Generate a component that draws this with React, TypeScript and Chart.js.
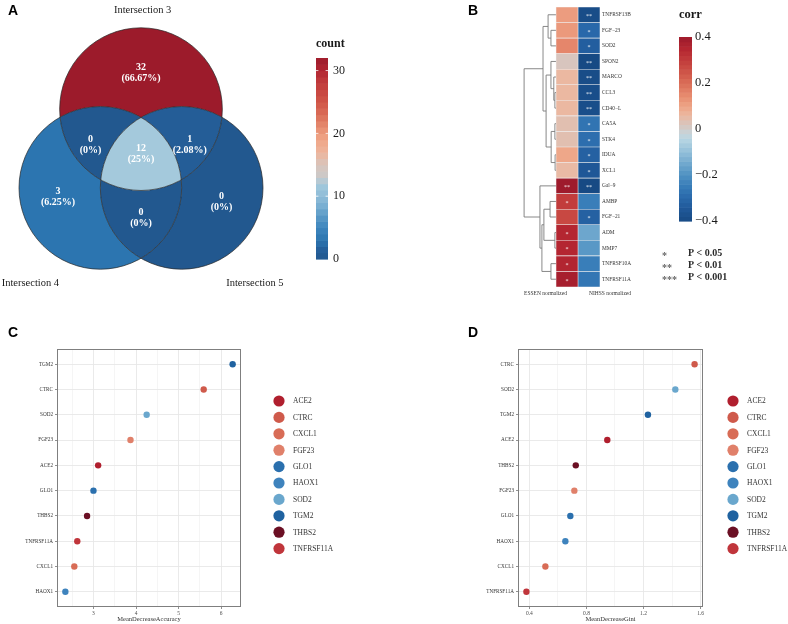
import React, { useEffect, useRef } from 'react';
import { Chart, registerables } from 'chart.js';

Chart.register(...registerables);

const SERIF = '"Liberation Serif", "Times New Roman", serif';
const SANS = '"Liberation Sans", Arial, sans-serif';
Chart.defaults.font.family = SERIF;

// ---------- Panel A: three-set Venn diagram ----------
const vennSetNames = ['Intersection 3', 'Intersection 4', 'Intersection 5'];
const vennRegionSets = [[0], [1], [2], [0, 1], [0, 2], [1, 2], [0, 1, 2]];
const vennRegionCounts = [32, 3, 0, 0, 1, 0, 12];
const countTicks = [0, 10, 20, 30];
const countMax = 32;

// ---------- Panel B: correlation heatmap ----------
const corrGenes = [
  'TNFRSF13B', 'FGF\u221223', 'SOD2', 'SPON2', 'MARCO', 'CCL3', 'CD40\u2212L', 'CA5A', 'STK4',
  'IDUA', 'XCL1', 'Gal\u22129', 'AMBP', 'FGF\u221221', 'ADM', 'MMP7', 'TNFRSF10A', 'TNFRSF11A',
];
const corrColumns = ['ESSEN normalized', 'NIHSS normalized'];
const essenCorr = [0.115, 0.12, 0.155, 0.02, 0.06, 0.06, 0.06, 0.04, 0.04, 0.095, 0.055, 0.4, 0.3, 0.275, 0.35, 0.35, 0.355, 0.38];
const nihssCorr = [-0.39, -0.3, -0.33, -0.4, -0.39, -0.385, -0.385, -0.27, -0.285, -0.32, -0.35, -0.4, -0.245, -0.32, -0.155, -0.185, -0.245, -0.265];
const essenSig = ['', '', '', '', '', '', '', '', '', '', '', '**', '*', '', '*', '*', '*', '*'];
const nihssSig = ['**', '*', '*', '**', '**', '**', '**', '*', '*', '*', '*', '**', '', '*', '', '', '', ''];
const corrTicks = [-0.4, -0.2, 0, 0.2, 0.4];
const sigMarks = ['*', '**', '***'];
const sigTexts = ['P < 0.05', 'P < 0.01', 'P < 0.001'];
// hclust-style merge table: negative = row (1-based), positive = earlier merge (1-based), then height
const dendroMerges: [number, number, number][] = [
  [-2, -3, 0.23],
  [-1, 1, 0.36],
  [-6, -7, 0.05],
  [-5, 3, 0.1],
  [-4, 4, 0.23],
  [-8, -9, 0.05],
  [-10, -11, 0.04],
  [6, 7, 0.22],
  [5, 8, 0.45],
  [2, 9, 0.59],
  [-13, -14, 0.27],
  [-15, -16, 0.05],
  [11, 12, 0.55],
  [-17, -18, 0.23],
  [13, 14, 0.64],
  [-12, 15, 0.73],
  [10, 16, 1.45],
];

// ---------- Panels C and D: random forest importance ----------
const rfGenes = ['ACE2', 'CTRC', 'CXCL1', 'FGF23', 'GLO1', 'HAOX1', 'SOD2', 'TGM2', 'THBS2', 'TNFRSF11A'];
const accuracyValues = [3.11, 5.59, 2.55, 3.87, 3.0, 2.34, 4.25, 6.27, 2.85, 2.62];
const giniValues = [0.946, 1.558, 0.512, 0.715, 0.687, 0.652, 1.423, 1.231, 0.725, 0.379];
const accuracyTicks = [3, 4, 5, 6];
const giniTicks = [0.4, 0.8, 1.2, 1.6];

// ---------- styles ----------
const geneColors = ['#b01f2e', '#cf5a4b', '#d86c56', '#e0806a', '#2b70ae', '#3e83bd', '#6aa7cd', '#1f62a0', '#6b0f24', '#c0353b'];

type Stop = [number, string];
const countStops: Stop[] = [
  [0, '#22588f'], [1.5, '#25609b'], [3, '#2c75b0'], [5, '#3d85bd'], [7, '#5d9cc8'], [9, '#82b5d5'],
  [12, '#a4c9dc'], [13, '#c9c9c9'], [15, '#d8c5bd'], [17, '#edb59c'], [19, '#f0a688'], [21, '#e68c70'],
  [23, '#da6e58'], [25, '#d05648'], [28, '#c23c3c'], [30, '#b22632'], [32, '#9c1b2b'],
];
const corrStops: Stop[] = [
  [-0.4, '#174a84'], [-0.35, '#1f5797'], [-0.3, '#2968aa'], [-0.25, '#377cb8'], [-0.2, '#4f91c2'],
  [-0.15, '#70a8ce'], [-0.1, '#92bfd9'], [-0.05, '#b3d3e2'], [-0.02, '#c6d6dc'], [0, '#d0cccb'],
  [0.03, '#dcc2b7'], [0.06, '#ebb8a1'], [0.1, '#eea486'], [0.15, '#e6896d'], [0.2, '#da6e58'],
  [0.25, '#ce5448'], [0.3, '#c23c3c'], [0.35, '#b42631'], [0.4, '#9e1b2c'],
];

function hexRgb(h: string) {
  const n = parseInt(h.slice(1), 16);
  return [(n >> 16) & 255, (n >> 8) & 255, n & 255];
}
function ramp(stops: Stop[], v: number) {
  if (v <= stops[0][0]) return stops[0][1];
  const last = stops[stops.length - 1];
  if (v >= last[0]) return last[1];
  for (let i = 1; i < stops.length; i++) {
    if (v <= stops[i][0]) {
      const [v0, c0] = stops[i - 1];
      const [v1, c1] = stops[i];
      const t = (v - v0) / (v1 - v0);
      const a = hexRgb(c0);
      const b = hexRgb(c1);
      return `rgb(${a.map((x, k) => Math.round(x + (b[k] - x) * t)).join(',')})`;
    }
  }
  return last[1];
}
const fmtMinus = (v: number) => (v < 0 ? '\u2212' + String(-v) : String(v));

function panelLetter(ctx: CanvasRenderingContext2D, letter: string, x: number, y: number) {
  ctx.save();
  ctx.font = `bold 14px ${SANS}`;
  ctx.fillStyle = '#000';
  ctx.textAlign = 'left';
  ctx.textBaseline = 'alphabetic';
  ctx.fillText(letter, x, y);
  ctx.restore();
}

// ---------- Panel A ----------
const vennCenters = [[0, 0.97], [-0.5, 0], [0.5, 0]]; // in circle-radius units
const vennLabelAnchors = [[0, 1.42], [-1.02, -0.11], [0.99, -0.17], [-0.62, 0.53], [0.6, 0.53], [0, -0.37], [0, 0.42]];
const vennNameAnchors = [[0.02, 2.19], [-1.36, -1.18], [1.4, -1.18]];
const countBar = { x: 316, top: 58, bottom: 259, w: 12 };

const vennPlugin = {
  id: 'venn',
  afterDraw(chart: any) {
    const { ctx, scales } = chart;
    const px = (u: number) => scales.x.getPixelForValue(u);
    const py = (u: number) => scales.y.getPixelForValue(u);
    const r = px(1) - px(0);
    const W = chart.width;
    const H = chart.height;
    const total = vennRegionCounts.reduce((a, b) => a + b, 0);

    vennRegionSets.forEach((sets, i) => {
      ctx.save();
      for (let k = 0; k < vennCenters.length; k++) {
        const [cx, cy] = vennCenters[k];
        ctx.beginPath();
        if (sets.includes(k)) {
          ctx.arc(px(cx), py(cy), r, 0, Math.PI * 2);
          ctx.clip();
        } else {
          ctx.rect(0, 0, W, H);
          ctx.arc(px(cx), py(cy), r, 0, Math.PI * 2);
          ctx.clip('evenodd');
        }
      }
      ctx.fillStyle = ramp(countStops, vennRegionCounts[i]);
      ctx.fillRect(0, 0, W, H);
      ctx.restore();
    });

    ctx.save();
    ctx.strokeStyle = '#262626';
    ctx.lineWidth = 0.7;
    vennCenters.forEach(([cx, cy]) => {
      ctx.beginPath();
      ctx.arc(px(cx), py(cy), r, 0, Math.PI * 2);
      ctx.stroke();
    });

    ctx.fillStyle = '#fff';
    ctx.font = `bold 10px ${SERIF}`;
    ctx.textAlign = 'center';
    ctx.textBaseline = 'middle';
    vennRegionCounts.forEach((c, i) => {
      const [ax, ay] = vennLabelAnchors[i];
      const pct = Number(((c / total) * 100).toFixed(2));
      ctx.fillText(String(c), px(ax), py(ay) - 5.5);
      ctx.fillText(`(${pct}%)`, px(ax), py(ay) + 5.5);
    });

    ctx.fillStyle = '#1a1a1a';
    ctx.font = `10.5px ${SERIF}`;
    vennSetNames.forEach((name, i) => {
      const [ax, ay] = vennNameAnchors[i];
      ctx.fillText(name, px(ax), py(ay));
    });

    // colour bar
    const { x, top, bottom, w } = countBar;
    const yOf = (v: number) => bottom - ((bottom - top) * v) / countMax;
    for (let k = 0; k < countMax; k++) {
      ctx.fillStyle = ramp(countStops, k + 0.5);
      ctx.fillRect(x, yOf(k + 1), w, yOf(k) - yOf(k + 1) + 0.6);
    }
    ctx.strokeStyle = '#fff';
    ctx.lineWidth = 0.8;
    ctx.textAlign = 'left';
    ctx.fillStyle = '#1a1a1a';
    ctx.font = `12px ${SERIF}`;
    countTicks.forEach((t) => {
      const yy = yOf(t);
      if (t > 0) {
        ctx.beginPath();
        ctx.moveTo(x, yy);
        ctx.lineTo(x + 2.4, yy);
        ctx.moveTo(x + w - 2.4, yy);
        ctx.lineTo(x + w, yy);
        ctx.stroke();
      }
      ctx.fillText(String(t), x + w + 5, yy);
    });
    ctx.font = `bold 12px ${SERIF}`;
    ctx.fillText('count', x, 44);
    ctx.restore();

    panelLetter(ctx, 'A', 8, 15);
  },
};

function vennConfig(): any {
  return {
    type: 'scatter',
    data: { datasets: [] },
    options: {
      animation: false,
      responsive: false,
      events: [],
      layout: { padding: { left: 19, right: 127, top: 28, bottom: 41 } },
      plugins: { legend: { display: false }, tooltip: { enabled: false } },
      scales: {
        x: { type: 'linear', min: -1.5, max: 1.5, display: false },
        y: { type: 'linear', min: -1, max: 1.97, display: false },
      },
    },
    plugins: [vennPlugin],
  };
}

// ---------- Panel B ----------
const corrBar = { x: 289, top: 37, bottom: 221, w: 13 };

const heatPlugin = {
  id: 'heat',
  beforeDatasetsDraw(chart: any) {
    const { ctx, scales } = chart;
    const hx = (h: number) => scales.x.getPixelForValue(-h);
    const nodes: { y: number; h: number }[] = [];
    ctx.save();
    ctx.strokeStyle = '#7a7a7a';
    ctx.lineWidth = 0.9;
    ctx.beginPath();
    dendroMerges.forEach(([a, b, h]) => {
      const child = (c: number) =>
        c < 0 ? { y: scales.y.getPixelForValue(-c - 1), h: 0 } : nodes[c - 1];
      const ca = child(a);
      const cb = child(b);
      ctx.moveTo(hx(ca.h), ca.y);
      ctx.lineTo(hx(h), ca.y);
      ctx.lineTo(hx(h), cb.y);
      ctx.lineTo(hx(cb.h), cb.y);
      nodes.push({ y: (ca.y + cb.y) / 2, h });
    });
    ctx.stroke();
    ctx.restore();
  },
  afterDatasetsDraw(chart: any) {
    const { ctx } = chart;
    const sigCols = [essenSig, nihssSig];
    ctx.save();
    ctx.fillStyle = 'rgba(255,255,255,0.92)';
    ctx.font = `6px ${SERIF}`;
    ctx.textAlign = 'center';
    ctx.textBaseline = 'middle';
    chart.data.datasets.forEach((_: any, d: number) => {
      const meta = chart.getDatasetMeta(d);
      meta.data.forEach((el: any, i: number) => {
        const s = sigCols[d][i];
        if (s) ctx.fillText(s, (el.x + el.base) / 2, el.y + 1.8);
      });
    });
    ctx.restore();
  },
  afterDraw(chart: any) {
    const { ctx, scales, chartArea } = chart;
    ctx.save();
    // column labels
    ctx.fillStyle = '#333';
    ctx.font = `5.5px ${SERIF}`;
    ctx.textBaseline = 'middle';
    const c0 = scales.x.getPixelForValue(0.5);
    const c1 = scales.x.getPixelForValue(1.5);
    ctx.textAlign = 'right';
    ctx.fillText(corrColumns[0], c0, chartArea.bottom + 7);
    ctx.textAlign = 'left';
    ctx.fillText(corrColumns[1], c1, chartArea.bottom + 7);

    // colour bar
    const { x, top, bottom, w } = corrBar;
    const lo = corrTicks[0];
    const hi = corrTicks[corrTicks.length - 1];
    const yOf = (v: number) => bottom - ((bottom - top) * (v - lo)) / (hi - lo);
    const steps = 40;
    for (let k = 0; k < steps; k++) {
      const v0 = lo + ((hi - lo) * k) / steps;
      const v1 = lo + ((hi - lo) * (k + 1)) / steps;
      ctx.fillStyle = ramp(corrStops, (v0 + v1) / 2);
      ctx.fillRect(x, yOf(v1), w, yOf(v0) - yOf(v1) + 0.6);
    }
    ctx.fillStyle = '#1a1a1a';
    ctx.font = `12.5px ${SERIF}`;
    ctx.textAlign = 'left';
    ctx.textBaseline = 'middle';
    corrTicks.forEach((t) => ctx.fillText(fmtMinus(t), x + w + 3, yOf(t)));
    ctx.font = `bold 12.5px ${SERIF}`;
    ctx.fillText('corr', x, 15);

    // significance key
    const rows = [253, 265.5, 277];
    ctx.font = `bold 10px ${SERIF}`;
    sigMarks.forEach((m, i) => {
      ctx.fillStyle = '#666';
      ctx.fillText(m, 272, rows[i] + 3);
      ctx.fillStyle = '#2b2b2b';
      ctx.fillText(sigTexts[i], 298, rows[i]);
    });
    ctx.restore();

    panelLetter(ctx, 'B', 78, 15);
  },
};

function heatConfig(): any {
  const cols = [essenCorr, nihssCorr];
  return {
    type: 'bar',
    data: {
      labels: corrGenes,
      datasets: corrColumns.map((label, c) => ({
        label,
        data: cols[c].map(() => [c, c + 1]),
        backgroundColor: cols[c].map((v) => ramp(corrStops, v)),
        borderColor: 'rgba(238,238,238,0.9)',
        borderWidth: 0.6,
        borderSkipped: false,
        barPercentage: 1,
        categoryPercentage: 1,
        grouped: false,
      })),
    },
    options: {
      indexAxis: 'y',
      animation: false,
      responsive: false,
      events: [],
      layout: { padding: { left: 133, top: 7, bottom: 23, right: 148 } },
      plugins: { legend: { display: false }, tooltip: { enabled: false } },
      scales: {
        x: { type: 'linear', min: -1.5, max: 2, display: false },
        y: {
          type: 'category',
          position: 'right',
          offset: true,
          grid: { display: false, drawTicks: false },
          border: { display: false },
          ticks: { autoSkip: false, padding: 2, color: '#333', font: { size: 5.4, family: SERIF } },
          afterFit(s: any) {
            s.width = 40;
          },
        },
      },
    },
    plugins: [heatPlugin],
  };
}

// ---------- Panels C and D ----------
function importanceConfig(
  values: number[],
  majors: number[],
  title: string,
  letter: string,
  yWidth: number,
  padRight: number,
  legendX: number,
): any {
  const order = rfGenes.map((_, i) => i).sort((a, b) => values[b] - values[a]);
  const rank: number[] = [];
  order.forEach((gi, r) => (rank[gi] = r));
  const lo = Math.min(...values);
  const hi = Math.max(...values);
  const pad = (hi - lo) * 0.05;
  const xmin = lo - pad;
  const xmax = hi + pad;
  const step = majors[1] - majors[0];
  const xTicks: number[] = [];
  for (let k = -1; k <= majors.length * 2; k++) {
    const v = Number((majors[0] + (k * step) / 2).toFixed(6));
    if (v >= xmin && v <= xmax) xTicks.push(v);
  }
  const isMajor = (v: number) => majors.some((m) => Math.abs(m - v) < 1e-6);

  const frame = {
    id: 'frame' + letter,
    beforeDatasetsDraw(chart: any) {
      const { ctx, chartArea: a } = chart;
      ctx.save();
      ctx.strokeStyle = '#7f7f7f';
      ctx.lineWidth = 1;
      ctx.strokeRect(Math.round(a.left) + 0.5, Math.round(a.top) + 0.5, Math.round(a.right - a.left) - 1, Math.round(a.bottom - a.top) - 1);
      ctx.restore();
    },
    afterDraw(chart: any) {
      const { ctx } = chart;
      ctx.save();
      ctx.font = `7.5px ${SERIF}`;
      ctx.textAlign = 'left';
      ctx.textBaseline = 'middle';
      chart.data.datasets.forEach((ds: any, i: number) => {
        const yy = 81 + i * 16.4;
        ctx.fillStyle = ds.backgroundColor;
        ctx.beginPath();
        ctx.arc(legendX, yy, 5.6, 0, Math.PI * 2);
        ctx.fill();
        ctx.fillStyle = '#333';
        ctx.fillText(ds.label, legendX + 14, yy + 0.5);
      });
      ctx.restore();
      panelLetter(ctx, letter, letter === 'C' ? 8 : 78, 17);
    },
  };

  return {
    type: 'scatter',
    data: {
      datasets: rfGenes.map((g, i) => ({
        label: g,
        data: [{ x: values[i], y: rank[i] }],
        backgroundColor: geneColors[i],
        borderWidth: 0,
        pointRadius: 3.2,
        pointHoverRadius: 3.2,
      })),
    },
    options: {
      animation: false,
      responsive: false,
      events: [],
      layout: { padding: { left: 0, top: 29, bottom: 0, right: padRight } },
      plugins: { legend: { display: false }, tooltip: { enabled: false } },
      scales: {
        x: {
          type: 'linear',
          min: xmin,
          max: xmax,
          afterBuildTicks(s: any) {
            s.ticks = xTicks.map((v) => ({ value: v }));
          },
          afterFit(s: any) {
            s.height = 17;
          },
          border: { display: false },
          grid: {
            color: (c: any) => (c.tick && isMajor(c.tick.value) ? '#e8e8e8' : '#f4f4f4'),
            tickColor: (c: any) => (c.tick && isMajor(c.tick.value) ? '#444' : 'rgba(0,0,0,0)'),
            tickLength: 2,
            tickWidth: 0.6,
            lineWidth: 0.9,
          },
          ticks: {
            autoSkip: false,
            maxRotation: 0,
            padding: 1,
            color: '#4d4d4d',
            font: { size: 5.5, family: SERIF },
            callback: (v: number) => (isMajor(v) ? String(Number(v.toFixed(2))) : ''),
          },
          title: {
            display: true,
            text: title,
            color: '#333',
            font: { size: 6.5, family: SERIF },
            padding: { top: 0, bottom: 1 },
          },
        },
        y: {
          type: 'linear',
          reverse: true,
          min: -0.6,
          max: rfGenes.length - 0.4,
          afterBuildTicks(s: any) {
            s.ticks = order.map((_, r) => ({ value: r }));
          },
          afterFit(s: any) {
            s.width = yWidth;
          },
          border: { display: false },
          grid: { color: '#e8e8e8', tickColor: '#444', tickLength: 2, tickWidth: 0.6, lineWidth: 0.9 },
          ticks: {
            autoSkip: false,
            padding: 2,
            color: '#333',
            font: { size: 5.2, family: SERIF },
            callback: (v: number) => rfGenes[order[v]],
          },
        },
      },
    },
    plugins: [frame],
  };
}

function ChartCanvas(props: { left: number; top: number; width: number; height: number; build: () => any }) {
  const ref = useRef<HTMLCanvasElement>(null);
  useEffect(() => {
    const chart = new Chart(ref.current as HTMLCanvasElement, props.build());
    return () => chart.destroy();
  }, []);
  return (
    <canvas
      ref={ref}
      width={props.width}
      height={props.height}
      style={{ position: 'absolute', left: props.left, top: props.top, width: props.width, height: props.height }}
    />
  );
}

export default function App() {
  return (
    <div style={{ position: 'absolute', left: 0, top: 0, width: 788, height: 624, background: '#fff', overflow: 'hidden' }}>
      <ChartCanvas left={0} top={0} width={390} height={310} build={vennConfig} />
      <ChartCanvas left={390} top={0} width={398} height={310} build={heatConfig} />
      <ChartCanvas
        left={0}
        top={320}
        width={390}
        height={304}
        build={() => importanceConfig(accuracyValues, accuracyTicks, 'MeanDecreaseAccuracy', 'C', 57, 149, 279)}
      />
      <ChartCanvas
        left={390}
        top={320}
        width={398}
        height={304}
        build={() => importanceConfig(giniValues, giniTicks, 'MeanDecreaseGini', 'D', 128, 85, 343)}
      />
    </div>
  );
}
